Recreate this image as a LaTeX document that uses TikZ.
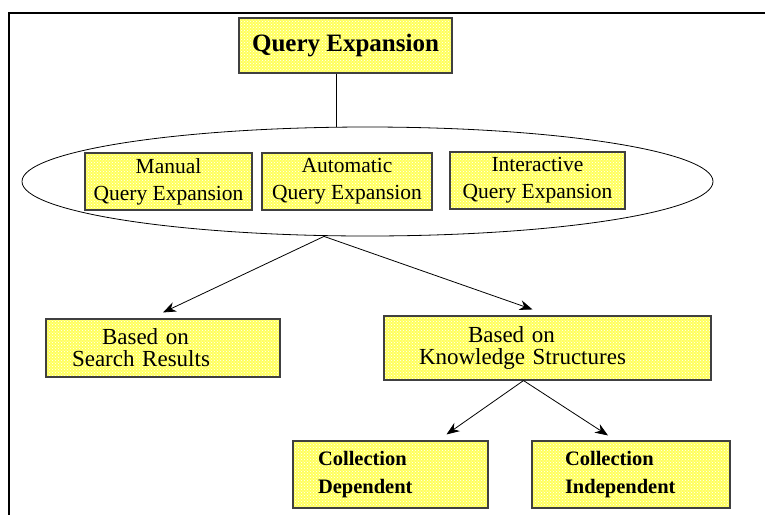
\documentclass[tikz,border=0pt]{standalone}
\usepackage{fontspec}
\setmainfont{Liberation Serif}
\usetikzlibrary{shapes.geometric,arrows.meta,patterns}

\begin{document}
\begin{tikzpicture}[x=1pt,y=-1pt,
    box/.style={draw=black!75,line width=1.1pt,preaction={fill=yellowa},pattern=crosshatch dots,pattern color=white,inner sep=0pt,align=center},
    arrow/.style={line width=0.8pt,-{Stealth[length=13pt,width=10pt]}}]
    \definecolor{yellowa}{HTML}{FFFF5C}
    \def\fa{\fontsize{21.5}{27}\selectfont}
    \def\fb{\fontsize{23}{22}\selectfont}
    \def\fc{\bfseries\fontsize{20.5}{28}\selectfont}
    \useasboundingbox (0,0) rectangle (765,515);
    \draw[line width=1.6pt] (765,13) -- (9,13) -- (9,515);
    \node[draw,ellipse,line width=0.8pt,minimum width=691pt,minimum height=109pt,inner sep=0pt] (ell) at (367.5,181.5) {};
    \node[box,minimum width=213pt,minimum height=55pt,font=\bfseries\fontsize{25}{30}\selectfont] (qe) at (345.5,45.5) {Query Expansion};
    \node[box,minimum width=167pt,minimum height=57pt,font=\fa] (manual) at (168.5,181.5) {Manual\\Query Expansion};
    \node[box,minimum width=170pt,minimum height=57pt,font=\fa] (auto) at (347,181.5) {Automatic\\Query Expansion};
    \node[box,minimum width=175pt,minimum height=57pt,font=\fa] (inter) at (537.5,180.5) {Interactive\\Query Expansion};
    \node[box,minimum width=234pt,minimum height=58pt,text width=182pt,align=left,font=\fb] (search) at (163,348) {\hspace*{30pt}Based on\\Search Results};
    \node[box,minimum width=327pt,minimum height=64pt,text width=257pt,align=left,font=\fb] (know) at (547.5,348) {\hspace*{49pt}Based on\\Knowledge Structures};
    \node[box,minimum width=195pt,minimum height=67pt,text width=145pt,align=left,font=\fc] (dep) at (390.5,474.5) {Collection\\Dependent};
    \node[box,minimum width=198pt,minimum height=67pt,text width=132pt,align=left,font=\fc] (indep) at (631,474.5) {Collection\\Independent};
    \draw[line width=0.8pt] ([xshift=-9.5pt]qe.south) -- ([xshift=-9.5pt]qe.south |- ell.north);
    \coordinate (split) at ([xshift=-43.5pt]ell.south);
    \coordinate (fork) at ([xshift=-24pt]know.south);
    \draw[arrow] (split) -- ([yshift=6pt]search.north);
    \draw[arrow] (split) -- ([xshift=-15pt,yshift=6pt]know.north);
    \draw[arrow] (fork) -- ([xshift=56pt,yshift=6pt]dep.north);
    \draw[arrow] (fork) -- ([xshift=-23pt,yshift=5pt]indep.north);
\end{tikzpicture}
\end{document}
